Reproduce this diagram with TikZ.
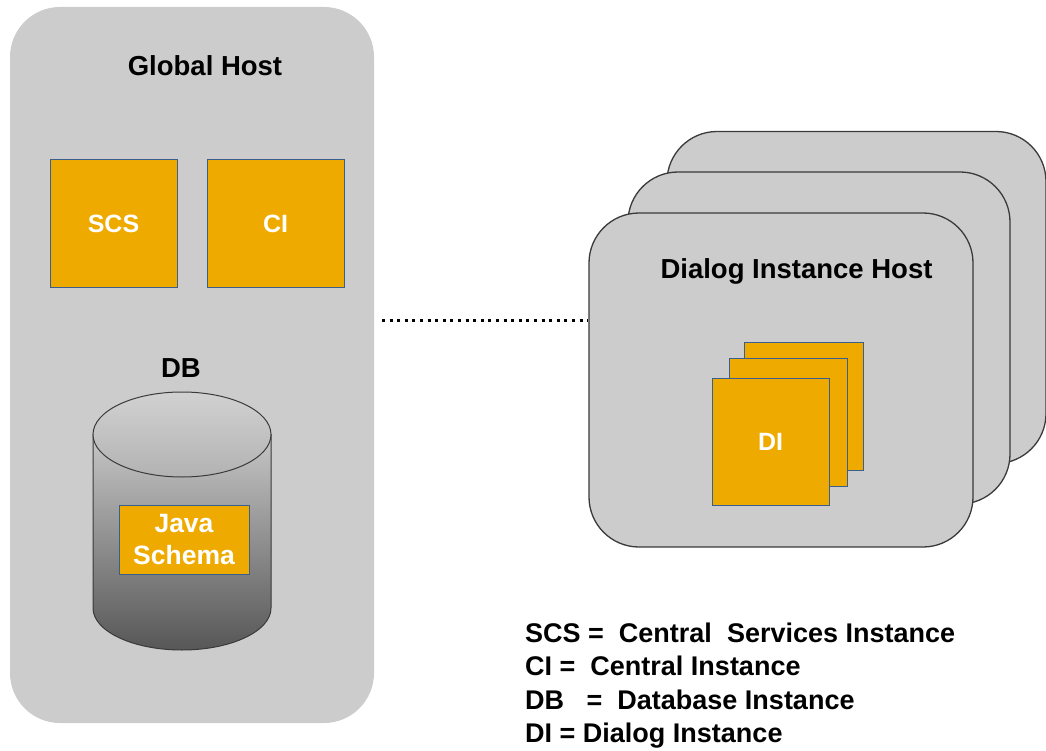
\documentclass[tikz,border=0pt]{standalone}
\usepackage{fontspec}
\setmainfont{Liberation Sans}
\definecolor{hostgray}{HTML}{CCCCCC}
\definecolor{gold}{HTML}{EFAA00}
\definecolor{boxblue}{HTML}{3A5F8F}
\definecolor{edgegray}{HTML}{3A3A3A}
\begin{document}
\begin{tikzpicture}[x=1pt,y=-1pt,
  host/.style={fill=hostgray, rounded corners=50pt, inner sep=0pt, draw=none},
  card/.style={fill=hostgray, draw=edgegray, line width=1.3pt, rounded corners=50pt, inner sep=0pt, minimum height=332pt},
  inst/.style={fill=gold, draw=boxblue, line width=1pt, inner sep=0pt, text=white, font=\bfseries\fontsize{25}{30}\selectfont},
  title/.style={font=\bfseries\fontsize{27.5}{32}\selectfont, inner sep=0pt},
  legend/.style={font=\bfseries\fontsize{27}{32}\selectfont, inner sep=0pt, anchor=base west},
  dotline/.style={line width=3pt, dash pattern=on 3pt off 4.6pt}]
\useasboundingbox (0,0) rectangle (1046,751);

% Global host
\node[host, minimum width=364pt, minimum height=716pt] (gh) at (192,365) {};
\node[title, anchor=base] (ghtitle) at (205,76) {Global Host};
\node[inst, minimum width=127pt, minimum height=127pt] (scs) at (113.5,223.5) {SCS};
\node[inst, minimum width=137pt, minimum height=127pt] (ci) at (275.5,223.5) {CI};
\node[title, anchor=base] (dblabel) at (181,377) {DB};

% Database cylinder
\path[top color=black!22, bottom color=black!66]
  (93,434) -- (93,608) .. controls (93,631.2) and (132.8,650) .. (182,650)
  .. controls (231.2,650) and (271,631.2) .. (271,608) -- (271,434) -- cycle;
\draw[edgegray, line width=1pt]
  (93,434) -- (93,608) .. controls (93,631.2) and (132.8,650) .. (182,650)
  .. controls (231.2,650) and (271,631.2) .. (271,608) -- (271,434);
\draw[edgegray, line width=1pt, top color=black!18, bottom color=black!30]
  (182,434.5) ellipse [x radius=89pt, y radius=42.5pt];
\node[inner sep=0pt, minimum width=178pt, minimum height=258pt] (dbcyl) at (182,521) {};
\node[inst, minimum width=130pt, minimum height=69pt, align=center,
  font=\bfseries\fontsize{26.5}{32}\selectfont] (java) at (184,539.5) {Java\\Schema};

% Dialog instance hosts
\node[card, minimum width=379pt] (h3) at (856.5,297.5) {};
\node[card, minimum width=382pt] (h2) at (819,338) {};
\node[card, minimum width=384pt, minimum height=334pt] (h1) at (781,380) {};
\node[title, anchor=base] (dihtitle) at (796.5,278) {Dialog Instance Host};
\node[inst, minimum width=119pt, minimum height=128pt] (di3) at (803.5,406) {};
\node[inst, minimum width=118pt, minimum height=128pt] (di2) at (788,422) {};
\node[inst, minimum width=117pt, minimum height=127pt] (di1) at (770.5,441.5) {DI};

% Connection
\coordinate (cl) at (382,320);
\coordinate (cr) at (h1.west |- cl);
\draw[dotline] (cl) -- (cr);

% Legend
\node[legend] (lg1) at (525,642) {SCS =\ \ Central\ \ Services Instance};
\node[legend] (lg2) at (525,675) {CI =\ \ Central Instance};
\node[legend] (lg3) at (525,709) {DB\ \ \ =\ \ Database Instance};
\node[legend] (lg4) at (525,742) {DI = Dialog Instance};
\end{tikzpicture}
\end{document}
